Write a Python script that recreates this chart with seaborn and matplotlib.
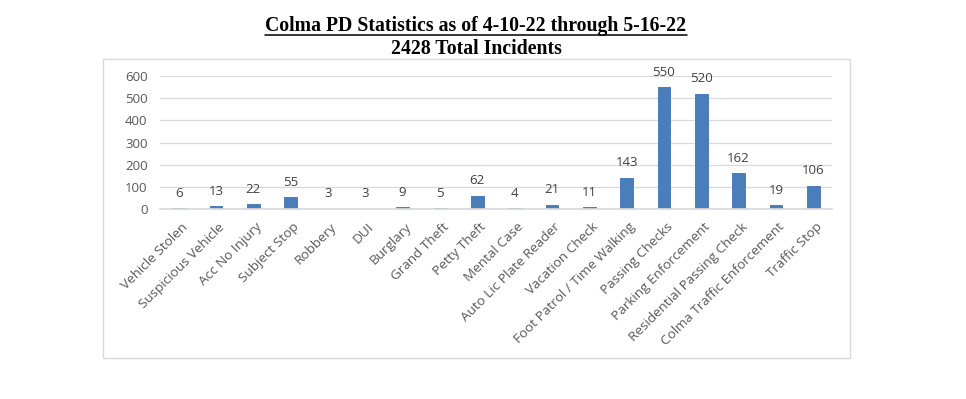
import matplotlib
matplotlib.use("Agg")
import matplotlib.pyplot as plt
import matplotlib.transforms as mtransforms
import seaborn as sns
import pandas as pd
from matplotlib.patches import Rectangle
from matplotlib.lines import Line2D

categories = ["Vehicle Stolen", "Suspicious Vehicle", "Acc No Injury", "Subject Stop",
              "Robbery", "DUI", "Burglary", "Grand Theft", "Petty Theft", "Mental Case",
              "Auto Lic Plate Reader", "Vacation Check", "Foot Patrol / Time Walking",
              "Passing Checks", "Parking Enforcement", "Residential Passing Check",
              "Colma Traffic Enforcement", "Traffic Stop"]
values = [6, 13, 22, 55, 3, 3, 9, 5, 62, 4, 21, 11, 143, 550, 520, 162, 19, 106]
y_ticks = [0, 100, 200, 300, 400, 500, 600]
title1 = "Colma PD Statistics as of 4-10-22 through 5-16-22"
title2 = "2428 Total Incidents"

sns.set_theme(style="white")
plt.rcParams['font.family'] = ['Open Sans', 'DejaVu Sans']

W, H = 966, 399
fig = plt.figure(figsize=(W / 100, H / 100), dpi=100)
fig.patch.set_facecolor("white")

# chart frame
fig.add_artist(Rectangle((102.7 / W, 1 - 357.7 / H), (850 - 102.7) / W, (357.7 - 58.5) / H,
                         transform=fig.transFigure, fill=False, edgecolor="#d9d9d9", lw=1))

ax = fig.add_axes([160 / W, 1 - 209.3 / H, (832 - 160) / W, (209.3 - 76) / H])
df = pd.DataFrame({"cat": categories, "val": values})
sns.barplot(data=df, x="cat", y="val", color="#4a7ebb", saturation=1, width=0.34, ax=ax,
            edgecolor="#4a7ebb", linewidth=0.7)
ax.set_xlim(-0.5, len(categories) - 0.5)
ax.set_ylim(0, 600)
ax.set_yticks(y_ticks)
ax.set_yticklabels([str(t) for t in y_ticks], fontsize=9.5, color="#595959")
ax.yaxis.grid(True, color="#d9d9d9", lw=0.9)
ax.set_axisbelow(True)
for s in ["top", "right", "left"]:
    ax.spines[s].set_visible(False)
ax.spines["bottom"].set_color("#d9d9d9")
ax.tick_params(axis="both", length=0)
ax.tick_params(axis="y", pad=9)
ax.tick_params(axis="x", pad=8)
ax.set_xlabel("")
ax.set_ylabel("")
ax.set_xticks(range(len(categories)))
ax.set_xticklabels(categories, rotation=45, ha="right", rotation_mode="anchor",
                   fontsize=9.7, color="#595959")
shift = mtransforms.ScaledTranslation(2 / 100, 0, fig.dpi_scale_trans)
for lab in ax.get_xticklabels():
    lab.set_transform(lab.get_transform() + shift)
for c in ax.containers:
    ax.bar_label(c, labels=[str(v) for v in values], padding=6, fontsize=9.5,
                 color="#404040", clip_on=False)

t1 = fig.text(476 / W, 1 - 31.5 / H, title1, ha="center", va="baseline",
              fontsize=14.2, fontweight="bold", family="Liberation Serif", color="black")
t2 = fig.text(476 / W, 1 - 53.5 / H, title2, ha="center", va="baseline",
              fontsize=14.2, fontweight="bold", family="Liberation Serif", color="black")

fig.canvas.draw()
bb = t1.get_window_extent(renderer=fig.canvas.get_renderer())
uy = 1 - 35 / H
fig.add_artist(Line2D([bb.x0 / fig.bbox.width, bb.x1 / fig.bbox.width], [uy, uy],
                      transform=fig.transFigure, color="black", lw=1.1))

fig.savefig("out.png", dpi=100, facecolor="white")
